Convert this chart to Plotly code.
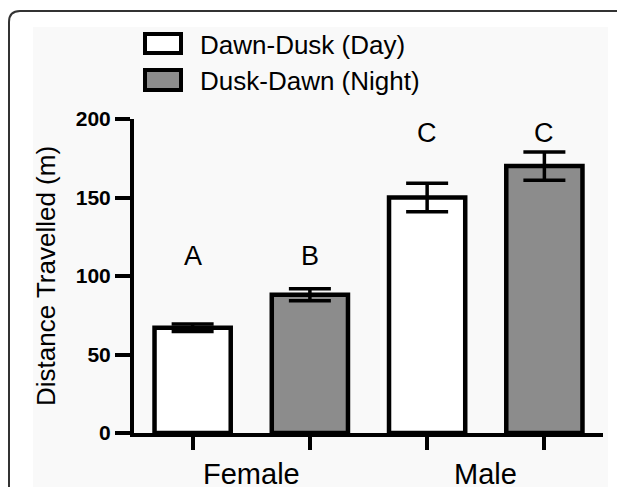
import plotly.graph_objects as go

# ---- data ----
groups = ["Female", "Male"]
series_names = ["Dawn-Dusk (Day)", "Dusk-Dawn (Night)"]
day_means = [67, 150]
day_errs = [2.4, 9]
night_means = [88, 170]
night_errs = [3.8, 9]
sig_letters_day = ["A", "C"]
sig_letters_night = ["B", "C"]
y_ticks = [0, 50, 100, 150, 200]

# ---- geometry (reference pixels; page body has an 8px margin) ----
OFF = 8
W, H = 625 - OFF, 487 - OFF
L, R, T, B = 134 - OFF, 603 - OFF, 119 - OFF, 433 - OFF


def px_x(p):
    return (p - OFF - L) / (R - L)


def px_y(p):
    return (B - (p - OFF)) / (B - T)


FONT = "Liberation Sans, Arial, Helvetica, sans-serif"
GRAY = "#8c8c8c"

# bar positions: group i -> day at 2i, night at 2i+1
x_day = [2 * i for i in range(len(groups))]
x_night = [2 * i + 1 for i in range(len(groups))]

fig = go.Figure()
fig.add_trace(go.Bar(
    x=x_day, y=day_means, width=0.65, name=series_names[0],
    marker=dict(color="white", line=dict(color="black", width=4.5)),
    error_y=dict(type="data", array=day_errs, color="black", thickness=3.5, width=21),
    showlegend=False,
))
fig.add_trace(go.Bar(
    x=x_night, y=night_means, width=0.65, name=series_names[1],
    marker=dict(color=GRAY, line=dict(color="black", width=4.5)),
    error_y=dict(type="data", array=night_errs, color="black", thickness=3.5, width=21),
    showlegend=False,
))

shapes = []
annotations = []

# light background panel
shapes.append(dict(type="rect", xref="paper", yref="paper", layer="below",
                   x0=px_x(33), x1=px_x(608), y0=px_y(495), y1=px_y(27),
                   fillcolor="#f9f9f9", line=dict(width=0)))
# outer rounded frame
path = (f"M {px_x(9)},{px_y(500)} L {px_x(9)},{px_y(22)} "
        f"Q {px_x(9)},{px_y(11)} {px_x(20)},{px_y(11)} L {px_x(640)},{px_y(11)}")
shapes.append(dict(type="path", xref="paper", yref="paper", path=path,
                   line=dict(color="#333333", width=2)))

# custom legend
leg_fills = ["white", GRAY]
leg_y = [(34, 53, 45), (70, 90, 81)]
for name, fill, (y0, y1, yc) in zip(series_names, leg_fills, leg_y):
    shapes.append(dict(type="rect", xref="paper", yref="paper",
                       x0=px_x(145), x1=px_x(181), y0=px_y(y1), y1=px_y(y0),
                       fillcolor=fill, line=dict(color="black", width=4)))
    annotations.append(dict(text=name, xref="paper", yref="paper",
                            x=px_x(198), y=px_y(yc), xanchor="left", yanchor="middle",
                            showarrow=False, font=dict(family=FONT, size=26, color="black")))

# significance letters
group_letter_y = [113, 191]
for i in range(len(groups)):
    for xv, letter in ((x_day[i], sig_letters_day[i]), (x_night[i], sig_letters_night[i])):
        annotations.append(dict(text=letter, x=xv, y=group_letter_y[i], xref="x", yref="y",
                                showarrow=False, yanchor="middle",
                                font=dict(family=FONT, size=27, color="black")))

# group labels
for i, g in enumerate(groups):
    annotations.append(dict(text=g, x=(x_day[i] + x_night[i]) / 2, xref="x",
                            y=px_y(474), yref="paper", yanchor="middle",
                            showarrow=False, font=dict(family=FONT, size=29, color="black")))

fig.update_layout(
    width=W, height=H,
    margin=dict(l=L, r=W - R, t=T, b=H - B, pad=0),
    paper_bgcolor="white", plot_bgcolor="rgba(0,0,0,0)",
    barmode="overlay",
    shapes=shapes, annotations=annotations,
    font=dict(family=FONT, color="black"),
)
fig.update_xaxes(
    range=[-0.5, 3.5], showgrid=False, zeroline=False,
    showline=True, linecolor="black", linewidth=4,
    tickvals=x_day + x_night, ticks="outside", ticklen=13, tickwidth=4, tickcolor="black",
    showticklabels=False, fixedrange=True,
)
fig.update_yaxes(
    range=[0, 200], showgrid=False, zeroline=False,
    showline=True, linecolor="black", linewidth=4,
    tickvals=y_ticks, ticks="outside", ticklen=15, tickwidth=4, tickcolor="black",
    tickfont=dict(family=FONT, size=21, color="black", weight="bold"),
    title=dict(text="Distance Travelled (m)", font=dict(family=FONT, size=26, color="black"),
               standoff=14),
    fixedrange=True,
)

fig.write_html("out.html", config={"displayModeBar": False})
